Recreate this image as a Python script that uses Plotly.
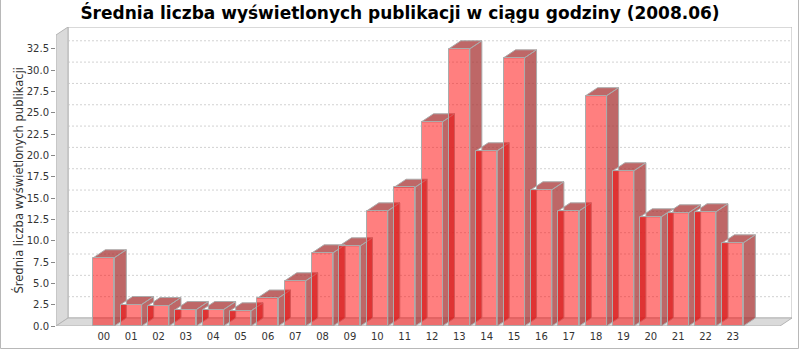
import plotly.graph_objects as go

# ---------------- data ----------------
hours = [f"{h:02d}" for h in range(24)]
values = [8.0, 2.52, 2.40, 1.93, 1.93, 1.78, 3.28, 5.30, 8.58, 9.40, 13.5, 16.27,
          23.94, 32.5, 20.54, 31.44, 15.97, 13.5, 27.0, 18.2, 12.8, 13.27, 13.39, 9.75]
y_ticks = [i * 2.5 for i in range(14)]
y_tick_text = [f"{t:.1f}" for t in y_ticks]
title_text = "Średnia liczba wyświetlonych publikacji w ciągu godziny (2008.06)"
y_title = "Średnia liczba wyświetlonych publikacji"

# ---------------- geometry (pixels -> axis units) ----------------
W, H = 800, 350
ML, MR, MT, MB = 56, 8, 27, 24
PX = 27.35          # pixels per category
PY = 8.53           # pixels per value unit
OX, OY = 12, 8      # 3D depth offset in pixels
plot_w = W - ML - MR
plot_h = H - MT - MB
x0 = -(103.8 - ML) / PX
x1 = x0 + plot_w / PX
y1 = plot_h / PY
dx = OX / PX
dy = OY / PY
xR = x0 + (780 - ML) / PX
bw = 21 / PX

FRONT = "rgba(255,0,0,0.5)"
SIDE = "rgba(168,52,52,0.75)"
EDGE = "#ABABAB"
WALL = "#DADADA"
WALL_EDGE = "#B4B4B4"


def px_x(p):
    return (p - ML) / plot_w


def px_y(p):
    return (H - MB - p) / plot_h


fig = go.Figure()

# side + top faces (drawn first)
sx, sy = [], []
for i, v in enumerate(values):
    xl, xr = i - bw / 2, i + bw / 2
    sx += [xr, xr + dx, xr + dx, xr, xr, None]
    sy += [0, dy, v + dy, v, 0, None]
    sx += [xl, xl + dx, xr + dx, xr, xl, None]
    sy += [v, v + dy, v + dy, v, v, None]
fig.add_trace(go.Scatter(x=sx, y=sy, mode="lines", fill="toself", fillcolor=SIDE,
                         line=dict(color=EDGE, width=1), hoverinfo="skip",
                         showlegend=False))

# front faces on an overlaid axis pair so they are drawn above the 3D faces
fig.add_trace(go.Bar(x=list(range(24)), y=values, width=bw, xaxis="x2", yaxis="y2",
                     marker=dict(color=FRONT, line=dict(color=EDGE, width=1)),
                     showlegend=False))

shapes = []
# back wall
shapes.append(dict(type="rect", xref="x", yref="y", x0=x0 + dx, x1=xR + dx, y0=dy, y1=y1,
                   fillcolor="white", line=dict(color=WALL_EDGE, width=1), layer="below"))
# gridlines on back wall
for t in y_ticks[1:]:
    shapes.append(dict(type="line", xref="x", yref="y", x0=x0 + dx, x1=xR + dx,
                       y0=t + dy, y1=t + dy, line=dict(color="#D2D2D2", width=1, dash="2px,2px"),
                       layer="below"))
# left wall
shapes.append(dict(type="path", xref="x", yref="y",
                   path=f"M{x0},0 L{x0 + dx},{dy} L{x0 + dx},{y1} L{x0},{y1 - dy} Z",
                   fillcolor=WALL, line=dict(color=WALL_EDGE, width=1), layer="below"))
# floor
shapes.append(dict(type="path", xref="x", yref="y",
                   path=f"M{x0},0 L{xR},0 L{xR + dx},{dy} L{x0 + dx},{dy} Z",
                   fillcolor=WALL, line=dict(color=WALL_EDGE, width=1), layer="below"))
# chart border (left, right, bottom)
for (ax, ay, bx, by) in [(0.5, 0, 0.5, 348.5), (798.5, 0, 798.5, 348.5), (0.5, 348.5, 798.5, 348.5)]:
    shapes.append(dict(type="line", xref="paper", yref="paper",
                       x0=px_x(ax), x1=px_x(bx), y0=px_y(ay), y1=px_y(by),
                       line=dict(color="#B8B8B8", width=1)))

fig.update_layout(
    width=W, height=H,
    margin=dict(l=ML, r=MR, t=MT, b=MB, pad=0),
    paper_bgcolor="white", plot_bgcolor="rgba(0,0,0,0)",
    title=dict(text=title_text, x=0.5, xref="container", xanchor="center",
               y=1 - 13 / H, yref="container", yanchor="middle",
               font=dict(family="DejaVu Sans", size=17, color="black", weight="bold")),
    xaxis=dict(range=[x0, x1], tickmode="array", tickvals=list(range(24)), ticktext=hours,
               showgrid=False, zeroline=False, showline=False, ticks="",
               ticklabelstandoff=3,
               tickfont=dict(family="DejaVu Sans", size=10, color="#333333")),
    yaxis=dict(range=[0, y1], tickmode="array", tickvals=y_ticks, ticktext=y_tick_text,
               showgrid=False, zeroline=False, showline=False, ticks="outside", ticklen=4,
               tickcolor="#888888",
               tickfont=dict(family="DejaVu Sans", size=10, color="#333333")),
    xaxis2=dict(range=[x0, x1], overlaying="x", anchor="y2", visible=False),
    yaxis2=dict(range=[0, y1], overlaying="y", anchor="x2", visible=False),
    shapes=shapes,
    annotations=[dict(text=y_title, xref="paper", yref="paper", x=px_x(18), y=px_y(180.5),
                      xanchor="center", yanchor="middle", textangle=-90, showarrow=False,
                      font=dict(family="DejaVu Sans", size=11.5, color="#333333"))],
    bargap=0,
)

fig.write_html("out.html")
